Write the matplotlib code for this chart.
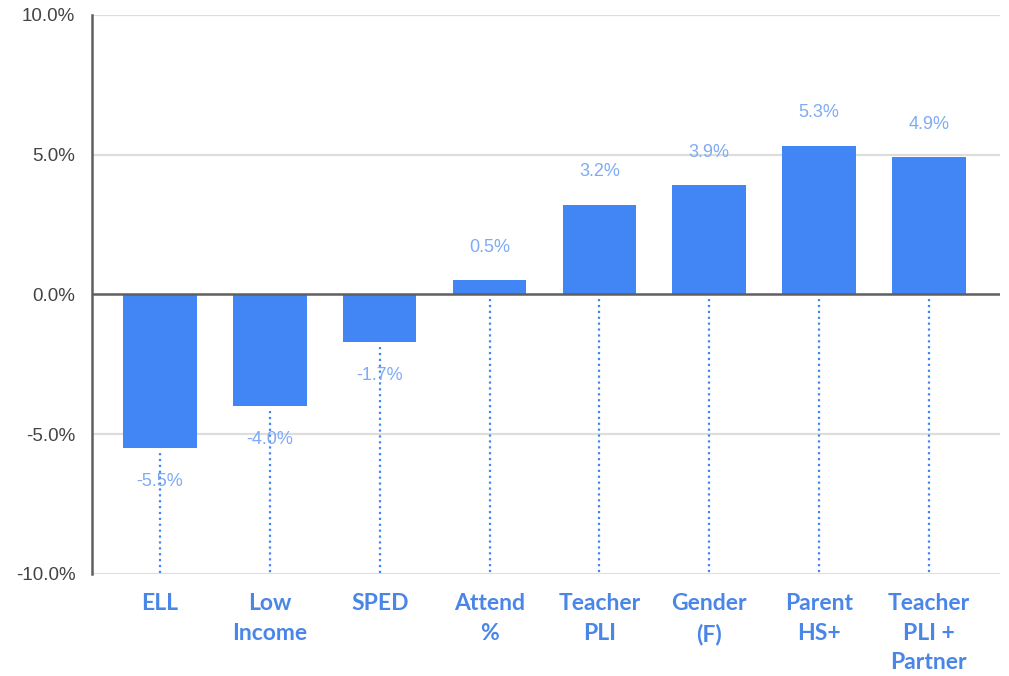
import numpy as np
import matplotlib.pyplot as plt

categories = ["ELL", "Low\nIncome", "SPED", "Attend\n%", "Teacher\nPLI",
              "Gender\n(F)", "Parent\nHS+", "Teacher\nPLI +\nPartner"]
values = [-5.5, -4.0, -1.7, 0.5, 3.2, 3.9, 5.3, 4.9]
value_labels = ["-5.5%", "-4.0%", "-1.7%", "0.5%", "3.2%", "3.9%", "5.3%", "4.9%"]
yticks = [-10, -5, 0, 5, 10]
ytick_labels = ["-10.0%", "-5.0%", "0.0%", "5.0%", "10.0%"]

bar_color = "#4285f4"
label_color = "#7eabf6"
cat_color = "#4a86e8"

fig = plt.figure(figsize=(10.09, 6.76), dpi=100)
ax = fig.add_axes([0.0912, 0.151, 0.900, 0.827])

x = np.arange(len(categories))
ax.set_xlim(-0.62, len(categories) - 1 + 0.65)
ax.set_ylim(-10, 10)

# grid
for t in yticks:
    if t == 0:
        continue
    ax.axhline(t, color="#dddddd", lw=1.6 if t != -10 else 2.2, zorder=0)

bars = ax.bar(x, values, width=0.67, color=bar_color, zorder=2)
ax.axhline(0, color="#5f5f5f", lw=1.8, zorder=3)

# dotted drop lines from bar end (or zero) to the bottom
for xi, v in zip(x, values):
    start = min(v, 0) - 0.18
    ax.plot([xi, xi], [start, -9.95], color=bar_color, ls=":", lw=1.6, zorder=1)

# value labels
for xi, v, lab in zip(x, values, value_labels):
    off = 24 if v > 0 else -24
    ax.annotate(lab, (xi, v), xytext=(0, off), textcoords="offset points",
                ha="center", va="center", fontsize=13, color=label_color,
                family="Liberation Sans", zorder=4)

ax.set_yticks(yticks)
ax.set_yticklabels(ytick_labels, family="Liberation Sans", fontsize=13.5, color="#444444")
ax.tick_params(axis="y", length=0, pad=12)

ax.set_xticks(x)
ax.set_xticklabels(categories, family="Lato", fontweight="bold", fontsize=16.5,
                   color=cat_color, linespacing=1.5)
ax.tick_params(axis="x", length=0, pad=14)

for s in ["top", "right", "bottom"]:
    ax.spines[s].set_visible(False)
ax.spines["left"].set_color("#5f5f5f")
ax.spines["left"].set_linewidth(1.8)

fig.savefig("out.png", dpi=100)
